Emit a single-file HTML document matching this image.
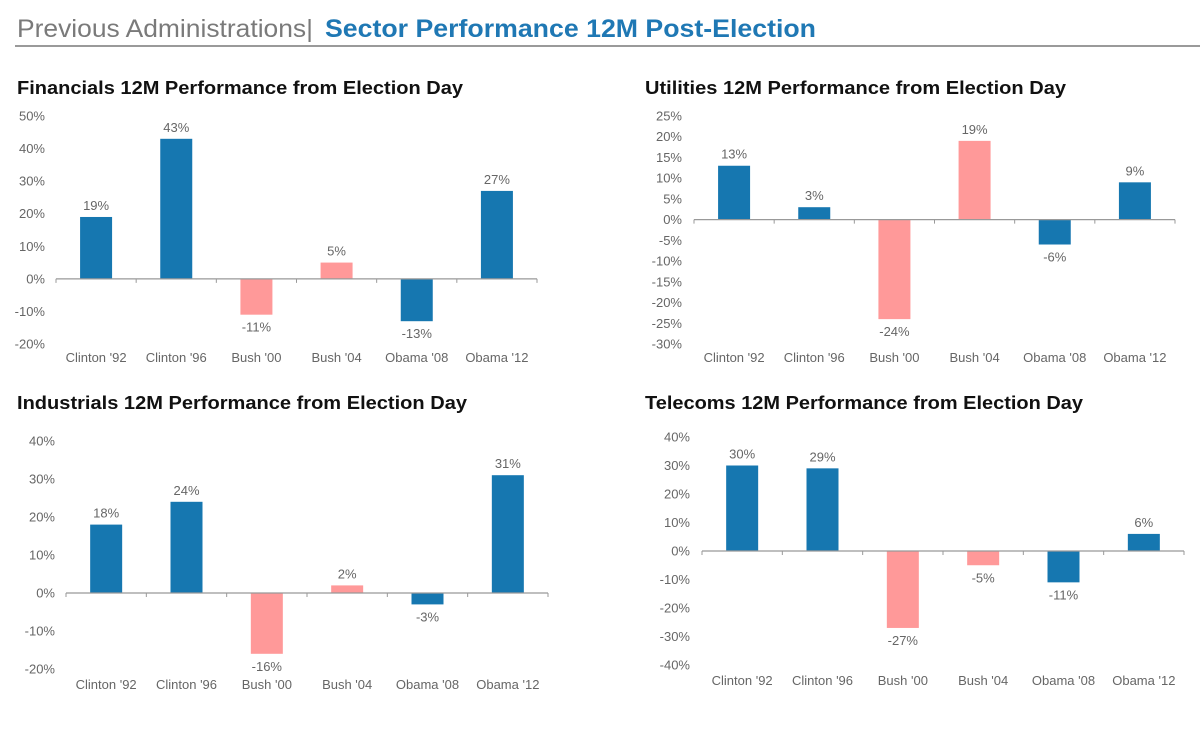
<!DOCTYPE html>
<html><head><meta charset="utf-8"><style>
html,body{margin:0;padding:0;background:#fff;}
svg{display:block;font-family:"Liberation Sans",Arial,sans-serif;}
</style></head><body>
<svg id="root" width="1200" height="730" viewBox="0 0 1200 730">
<text x="17" y="37" font-size="25" fill="#7a7a7a" textLength="296" lengthAdjust="spacingAndGlyphs">Previous Administrations|</text>
<text x="325" y="37" font-size="25" font-weight="bold" fill="#1f78b4" textLength="491" lengthAdjust="spacingAndGlyphs">Sector Performance 12M Post-Election</text>
<rect x="15" y="45" width="1185" height="2" fill="#9a9a9a"/>
<text x="17" y="94" font-size="18" font-weight="bold" fill="#111" textLength="446" lengthAdjust="spacingAndGlyphs">Financials 12M Performance from Election Day</text>
<text x="645" y="94" font-size="18" font-weight="bold" fill="#111" textLength="421" lengthAdjust="spacingAndGlyphs">Utilities 12M Performance from Election Day</text>
<text x="17" y="409" font-size="18" font-weight="bold" fill="#111" textLength="450" lengthAdjust="spacingAndGlyphs">Industrials 12M Performance from Election Day</text>
<text x="645" y="409" font-size="18" font-weight="bold" fill="#111" textLength="438" lengthAdjust="spacingAndGlyphs">Telecoms 12M Performance from Election Day</text>
</svg>
<script>
const categories = ["Clinton '92","Clinton '96","Bush '00","Bush '04","Obama '08","Obama '12"];
const barColors = ["#1677b0","#1677b0","#ff9999","#ff9999","#1677b0","#1677b0"];
const financialsValues = [19,43,-11,5,-13,27];
const utilitiesValues = [13,3,-24,19,-6,9];
const industrialsValues = [18,24,-16,2,-3,31];
const telecomsValues = [30,29,-27,-5,-11,6];
const financialsTicks = [50,40,30,20,10,0,-10,-20];
const utilitiesTicks = [25,20,15,10,5,0,-5,-10,-15,-20,-25,-30];
const industrialsTicks = [40,30,20,10,0,-10,-20];
const telecomsTicks = [40,30,20,10,0,-10,-20,-30,-40];

const NS="http://www.w3.org/2000/svg";
const root=document.getElementById('root');
function mk(tag,attrs){const e=document.createElementNS(NS,tag);for(const k in attrs)e.setAttribute(k,attrs[k]);return e;}

function chart(name,values,ticks,g){
  const vmax=ticks[0],vmin=ticks[ticks.length-1];
  const y=v=>g.yTop+(vmax-v)/(vmax-vmin)*(g.yBot-g.yTop);
  const cw=(g.x1-g.x0)/categories.length;
  const x=i=>g.x0+cw*(i+0.5);
  ticks.forEach(t=>{
    const tx=mk('text',{x:g.labX,y:y(t)+4.5,'font-size':13,fill:'#666','text-anchor':'end'});
    tx.textContent=t+'%';
    
    
    root.appendChild(tx);
  });
  values.forEach((v,i)=>{
    const top=Math.min(y(v),y(0)),h=Math.abs(y(v)-y(0));
    const r=mk('rect',{x:x(i)-16,y:top,width:32,height:h,fill:barColors[i]});
    
    
    root.appendChild(r);
    const ly=v>=0?y(v)-7:y(v)+17;
    const l=mk('text',{x:x(i),y:ly,'font-size':13,fill:'#666','text-anchor':'middle'});
    l.textContent=v+'%';
    
    
    root.appendChild(l);
    const c=mk('text',{x:x(i),y:g.catY,'font-size':13,fill:'#666','text-anchor':'middle'});
    c.textContent=categories[i];
    
    
    root.appendChild(c);
  });
  const ax=mk('line',{x1:g.x0,x2:g.x1,y1:y(0),y2:y(0),stroke:'#999','stroke-width':1.2});
  
  
  root.appendChild(ax);
  for(let i=0;i<=categories.length;i++){
    const tk=mk('line',{x1:g.x0+cw*i,x2:g.x0+cw*i,y1:y(0),y2:y(0)+4,stroke:'#999','stroke-width':1});
    
    
    root.appendChild(tk);
  }
}
chart('financials',financialsValues,financialsTicks,{x0:56,x1:537,yTop:116,yBot:344,labX:45,catY:362});
chart('utilities',utilitiesValues,utilitiesTicks,{x0:694,x1:1175,yTop:116,yBot:344,labX:682,catY:362});
chart('industrials',industrialsValues,industrialsTicks,{x0:66,x1:548,yTop:441,yBot:669,labX:55,catY:689});
chart('telecoms',telecomsValues,telecomsTicks,{x0:702,x1:1184,yTop:437,yBot:665,labX:690,catY:685});
</script>
</body></html>
